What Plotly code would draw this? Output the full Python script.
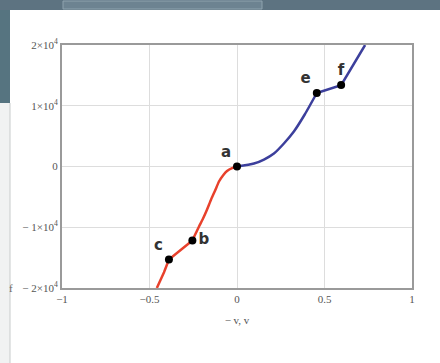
import plotly.graph_objects as go

# Red branch, curved part a -> b
red_curve_x = [0.0, -0.028, -0.057, -0.080, -0.103, -0.125, -0.148, -0.171, -0.194, -0.217, -0.239, -0.255]
red_curve_y = [0, -250, -740, -1480, -2470, -3950, -5430, -7080, -8560, -9880, -11190, -12180]
# Red branch, straight part b -> c -> bottom edge
red_lin_x = [-0.255, -0.389, -0.417, -0.458]
red_lin_y = [-12180, -15300, -17400, -20000]

# Blue branch, curved part a -> e
blue_curve_x = [0.0, 0.097, 0.154, 0.211, 0.268, 0.325, 0.387, 0.456]
blue_curve_y = [0, 490, 1150, 2140, 3790, 5760, 8560, 12100]
# Blue branch, straight part e -> f -> top edge
blue_lin_x = [0.456, 0.595, 0.732]
blue_lin_y = [12100, 13400, 20000]

# Labelled points
pt_names = ["a", "b", "c", "e", "f"]
pt_x = [0.0, -0.255, -0.389, 0.456, 0.595]
pt_y = [0, -12180, -15300, 12100, 13400]
pt_pos = ["top left", "middle right", "top left", "top left", "top center"]

x_ticks = [-1, -0.5, 0, 0.5, 1]
x_tick_text = ["−1", "−0.5", "0", "0.5", "1"]
y_ticks = [-20000, -10000, 0, 10000, 20000]
y_tick_text = ["− 2×10<sup>4</sup>", "− 1×10<sup>4</sup>", "0", "1×10<sup>4</sup>", "2×10<sup>4</sup>"]

RED = "#e8412c"
BLUE = "#3c3f9c"

fig = go.Figure()
fig.add_trace(go.Scatter(x=red_curve_x, y=red_curve_y, mode="lines",
                         line=dict(color=RED, width=2.5, shape="spline", smoothing=0.6), hoverinfo="skip"))
fig.add_trace(go.Scatter(x=red_lin_x, y=red_lin_y, mode="lines",
                         line=dict(color=RED, width=2.5), hoverinfo="skip"))
fig.add_trace(go.Scatter(x=blue_curve_x, y=blue_curve_y, mode="lines",
                         line=dict(color=BLUE, width=2.5, shape="spline", smoothing=0.6), hoverinfo="skip"))
fig.add_trace(go.Scatter(x=blue_lin_x, y=blue_lin_y, mode="lines",
                         line=dict(color=BLUE, width=2.5), hoverinfo="skip"))
fig.add_trace(go.Scatter(x=pt_x, y=pt_y, mode="markers+text", text=pt_names, textposition=pt_pos,
                         marker=dict(color="black", size=8),
                         textfont=dict(family="DejaVu Sans", size=15, color="#333333", weight="bold"),
                         hoverinfo="skip"))

tickfont = dict(family="Liberation Serif", size=11, color="#555555")


def px_x(p):
    return (p - 62) / 350.0


def px_y(p):
    return (288 - p) / 243.0


shapes = [
    dict(type="rect", xref="paper", yref="paper", x0=px_x(0), x1=px_x(440), y0=px_y(10), y1=px_y(0),
         fillcolor="#5d7381", line=dict(width=0), layer="below"),
    dict(type="rect", xref="paper", yref="paper", x0=px_x(63), x1=px_x(262), y0=px_y(9), y1=px_y(1),
         fillcolor="#6d8391", line=dict(color="#8fa3ae", width=1), layer="below"),
    dict(type="rect", xref="paper", yref="paper", x0=px_x(0), x1=px_x(10), y0=px_y(103), y1=px_y(10),
         fillcolor="#567480", line=dict(width=0), layer="below"),
    dict(type="rect", xref="paper", yref="paper", x0=px_x(0), x1=px_x(10), y0=px_y(363), y1=px_y(103),
         fillcolor="#f1f2f2", line=dict(width=0), layer="below"),
    dict(type="line", xref="paper", yref="paper", x0=px_x(10), x1=px_x(10), y0=px_y(363), y1=px_y(103),
         line=dict(color="#c8cccc", width=1), layer="below"),
]

fig.update_layout(
    width=440, height=363,
    margin=dict(l=62, r=28, t=45, b=75),
    paper_bgcolor="white", plot_bgcolor="white",
    showlegend=False,
    shapes=shapes,
    xaxis=dict(range=[-1, 1], tickvals=x_ticks, ticktext=x_tick_text, tickfont=tickfont,
               showgrid=True, gridcolor="#dddddd", gridwidth=1, zeroline=False,
               showline=True, mirror=True, linecolor="#9a9a9a", linewidth=2,
               ticks="", title=dict(text="− v, v", font=dict(family="Liberation Serif", size=11, color="#555555"),
                                    standoff=12)),
    yaxis=dict(range=[-20000, 20000], tickvals=y_ticks, ticktext=y_tick_text, tickfont=tickfont,
               showgrid=True, gridcolor="#dddddd", gridwidth=1, zeroline=False,
               showline=True, mirror=True, linecolor="#9a9a9a", linewidth=2, ticks=""),
    annotations=[dict(text="f", xref="paper", yref="paper", x=px_x(7), y=px_y(296), showarrow=False,
                      font=dict(family="Liberation Serif", size=11, color="#666666"))],
)

fig.write_html("out.html", config={"displayModeBar": False},
               post_script="document.body.style.margin='0';document.body.style.overflow='hidden';")
